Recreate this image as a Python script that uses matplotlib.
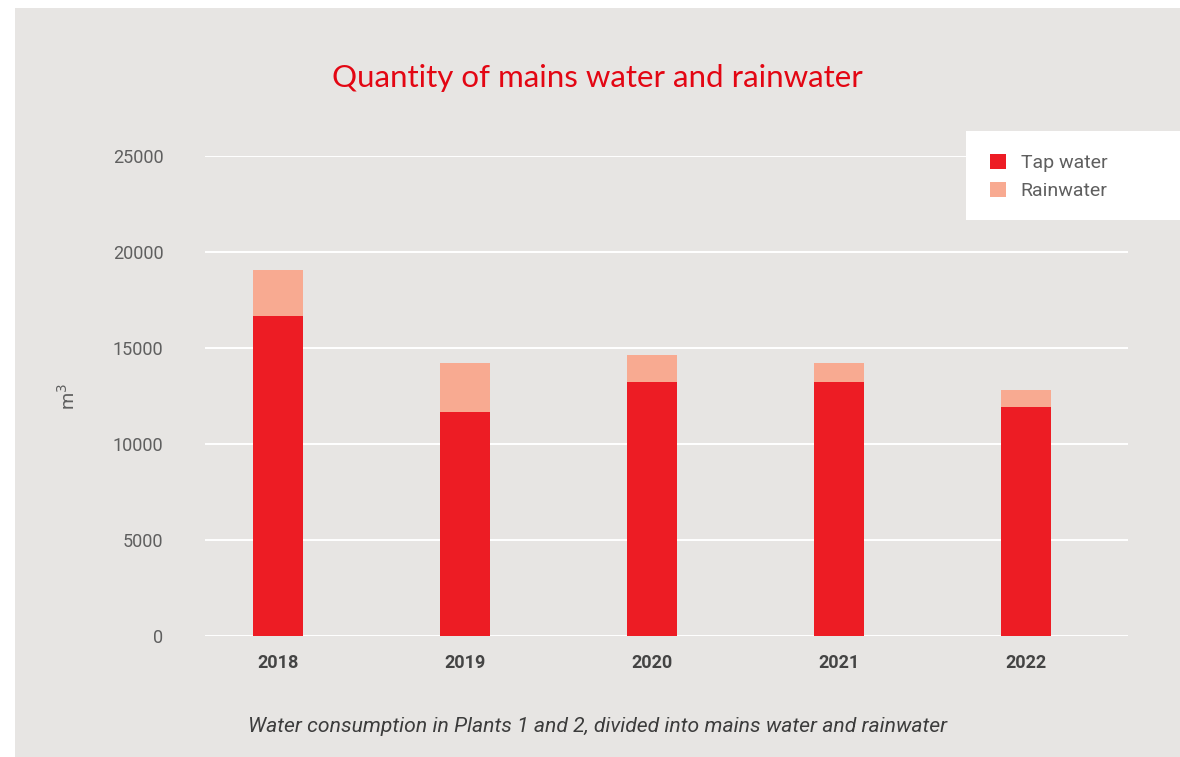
import matplotlib
matplotlib.use("Agg")
import matplotlib.pyplot as plt
from matplotlib.patches import Rectangle

YEARS = ["2018", "2019", "2020", "2021", "2022"]
TAP = [16670, 11670, 13230, 13230, 11930]
RAIN = [2390, 2550, 1410, 990, 890]

TAP_C = "#ed1c24"
RAIN_C = "#f8aa91"
BG = "#e7e5e3"

W, H = 1180, 757
fig = plt.figure(figsize=(W / 100, H / 100), dpi=100)
fig.patch.set_facecolor("white")
# grey panel behind everything
fig.add_artist(Rectangle((15 / W, 0), 1 - 15 / W, 1 - 8 / H, transform=fig.transFigure,
                         facecolor=BG, edgecolor="none", zorder=0))

ax = fig.add_axes([205 / W, 1 - 636 / H, (1128 - 205) / W, (636 - 156) / H])
ax.set_facecolor("none")
x = list(range(len(YEARS)))
ax.bar(x, TAP, width=0.267, color=TAP_C, zorder=3, label="Tap water")
ax.bar(x, RAIN, width=0.267, bottom=TAP, color=RAIN_C, zorder=3, label="Rainwater")

ax.set_ylim(0, 25000)
ax.set_xlim(-0.39, 4.545)
ax.set_yticks(range(0, 25001, 5000))
ax.grid(axis="y", color="white", linewidth=1.4, zorder=1)
ax.set_axisbelow(True)
for s in ax.spines.values():
    s.set_visible(False)
ax.tick_params(length=0)
ax.tick_params(axis="y", pad=30, labelsize=13, labelcolor="#5f5f5f")
ax.tick_params(axis="x", pad=13, labelsize=13, labelcolor="#444444")
ax.set_xticks(x)
ax.set_xticklabels(YEARS, fontweight="bold", family="Roboto")
for t in ax.get_yticklabels():
    t.set_family("Roboto")

fig.text(68 / W, 1 - 397 / H, "m$^3$", rotation=90, ha="center", va="center",
         fontsize=14, color="#5f5f5f", family="Roboto")

fig.text(597 / W, 1 - 78 / H, "Quantity of mains water and rainwater", ha="center",
         va="center", fontsize=22.5, color="#e30613", family="Lato")

fig.text(598 / W, 1 - 727 / H,
         "Water consumption in Plants 1 and 2, divided into mains water and rainwater",
         ha="center", va="center", fontsize=15.2, style="italic", color="#3c3c3c",
         family="Roboto")

# legend box
fig.add_artist(Rectangle((966 / W, 1 - 220 / H), 1 - 966 / W, 89 / H,
                         transform=fig.transFigure, facecolor="white",
                         edgecolor="none", zorder=4))
leg = fig.legend(loc="center left", bbox_to_anchor=(972 / W, 1 - 177 / H),
                 frameon=False, handlelength=0.85, handleheight=0.85,
                 handletextpad=0.75, labelspacing=0.5, prop={"family": "Roboto", "size": 14})
for t in leg.get_texts():
    t.set_color("#5f5f5f")
leg.set_zorder(5)

fig.savefig("out.png", dpi=100)
